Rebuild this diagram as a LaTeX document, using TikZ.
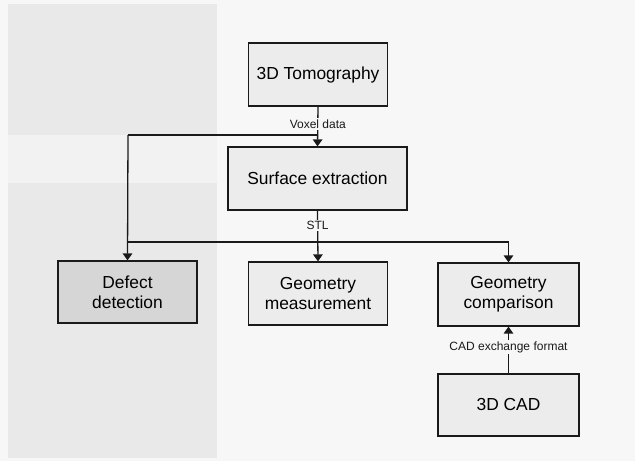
\documentclass[tikz,border=0pt]{standalone}
\usepackage{fontspec}
\setmainfont{Liberation Sans}
\usetikzlibrary{arrows.meta}
\definecolor{paper}{HTML}{F7F7F7}
\definecolor{panel}{HTML}{E9E9E9}
\definecolor{band}{HTML}{F2F2F2}
\definecolor{boxfill}{HTML}{ECECEC}
\definecolor{boxdark}{HTML}{D6D6D6}
\definecolor{ink}{HTML}{1A1A1A}
\begin{document}
\begin{tikzpicture}[x=1pt,y=-1pt,
  box/.style={draw=ink, line width=1.2pt, fill=boxfill, align=center,
    inner sep=0pt, minimum width=139pt, minimum height=63pt,
    font=\fontsize{17.4}{20}\selectfont},
  darkbox/.style={box, fill=boxdark},
  link/.style={draw=ink, line width=1.3pt},
  arrowlink/.style={link, -{Triangle[length=7pt,width=9.5pt]}},
  tag/.style={fill=paper, inner sep=1.5pt, text=ink,
    font=\fontsize{12}{14}\selectfont}]
  % page and grey side panel
  \fill[paper] (0,0) rectangle (635,461);
  \fill[panel] (8,4) rectangle (217,458);
  \fill[band] (8,135) rectangle (217,183);
  \useasboundingbox (0,0) rectangle (635,461);

  % process boxes
  \node[box]     (tomo)  at (318,74.5)  {3D Tomography};
  \node[box, minimum width=179pt] (surf) at (317.5,178.5) {Surface extraction};
  \node[darkbox, minimum height=62pt] (defect) at (127.5,292) {Defect\\detection};
  \node[box]     (geomm) at (318,293.5) {Geometry\\measurement};
  \node[box, minimum width=141pt] (geomc) at (508.5,294.5) {Geometry\\comparison};
  \node[box, minimum width=141pt, minimum height=62pt] (cad) at (508.5,405) {3D CAD};

  % junctions of the distribution lines
  \coordinate (voxj) at (128,135);
  \coordinate (stlj) at (128,242);

  % voxel data: to surface extraction and to defect detection
  \draw[link] (tomo.south |- voxj) -- (voxj);
  \draw[arrowlink] (voxj) -- (defect.north);
  \draw[arrowlink] (tomo.south) -- node[tag, pos=0.44] {Voxel data} (surf.north);

  % STL: to the three analysis boxes
  \draw[link] (stlj) -- (geomc.north |- stlj);
  \draw[arrowlink] (geomc.north |- stlj) -- (geomc.north);
  \draw[arrowlink] (surf.south) -- node[tag, pos=0.29] {STL} (geomm.north);

  % CAD model into the comparison
  \draw[arrowlink] (cad.north) -- node[tag, pos=0.56] {CAD exchange format} (geomc.south);
\end{tikzpicture}
\end{document}
